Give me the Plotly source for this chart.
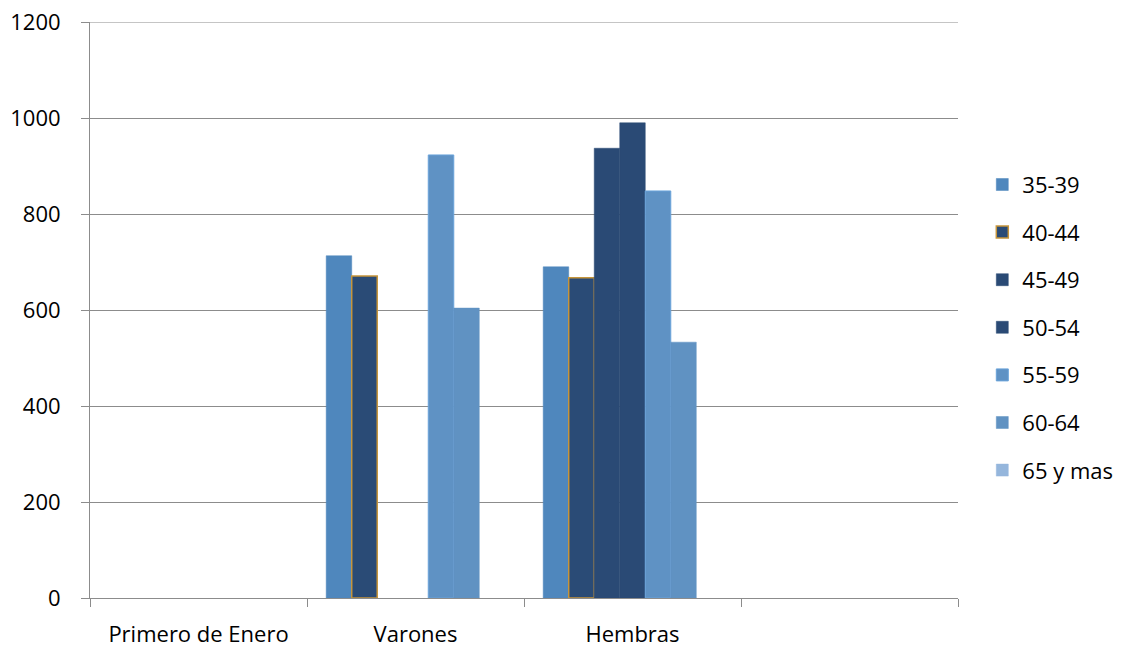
import plotly.graph_objects as go

categories = ["Primero de Enero", "Varones", "Hembras", " "]
series_names = ["35-39", "40-44", "45-49", "50-54", "55-59", "60-64", "65 y mas"]
values = {
    "35-39": [None, 713, 690, None],
    "40-44": [None, 671, 667, None],
    "45-49": [None, None, 937, None],
    "50-54": [None, None, 990, None],
    "55-59": [None, 923, 848, None],
    "60-64": [None, 604, 533, None],
    "65 y mas": [None, None, None, None],
}
y_ticks = [0, 200, 400, 600, 800, 1000, 1200]

fills = {
    "35-39": "#4f87bd",
    "40-44": "#2a4b76",
    "45-49": "#2a4a75",
    "50-54": "#2a4a75",
    "55-59": "#5f92c4",
    "60-64": "#6092c2",
    "65 y mas": "#95b6dc",
}
borders = {
    "35-39": ("#4f87bd", 0.5),
    "40-44": ("#c6953b", 1.5),
    "45-49": ("#2a4a75", 0.5),
    "50-54": ("#2a4a75", 0.5),
    "55-59": ("#6aa3da", 1.0),
    "60-64": ("#6092c2", 0.5),
    "65 y mas": ("#95b6dc", 0.5),
}

fig = go.Figure()
for name in series_names:
    lc, lw = borders[name]
    fig.add_trace(go.Bar(
        x=categories, y=values[name], name=name,
        marker=dict(color=fills[name], line=dict(color=lc, width=lw)),
        legendgroup=name,
    ))

grid_color = "#8c8c8c"
# top gridline (plotly omits the gridline on the plot edge)
fig.add_shape(type="line", xref="paper", yref="y", x0=0, x1=1,
              y0=y_ticks[-1], y1=y_ticks[-1], line=dict(color=grid_color, width=1),
              layer="below")

fam = "Open Sans, Noto Sans, sans-serif"
font = dict(family=fam, size=22, color="#000000")
fig.update_layout(
    width=1123, height=647,
    margin=dict(l=90, r=165, t=22, b=49, autoexpand=False),
    paper_bgcolor="white", plot_bgcolor="white",
    barmode="group", bargap=0.177, bargroupgap=0,
    font=font,
    showlegend=True,
    legend=dict(x=1.028, y=0.754, xanchor="left", yanchor="top",
                font=dict(family=fam, size=22),
                tracegroupgap=16, itemwidth=30),
    xaxis=dict(type="category", tickson="boundaries", ticks="outside", ticklen=8,
               tickcolor=grid_color, showline=True, linecolor=grid_color, linewidth=1,
               showgrid=False, ticklabelstandoff=17, automargin=False),
    yaxis=dict(range=[0, 1200], tickvals=y_ticks, ticks="outside", ticklen=8,
               tickcolor=grid_color, showline=True, linecolor=grid_color, linewidth=1,
               showgrid=True, gridcolor=grid_color, gridwidth=1, zeroline=False,
               ticklabelstandoff=16, automargin=False),
)
fig.write_html("out.html", config={"displayModeBar": False},
               post_script="document.body.style.margin='0';document.body.style.overflow='hidden';")
